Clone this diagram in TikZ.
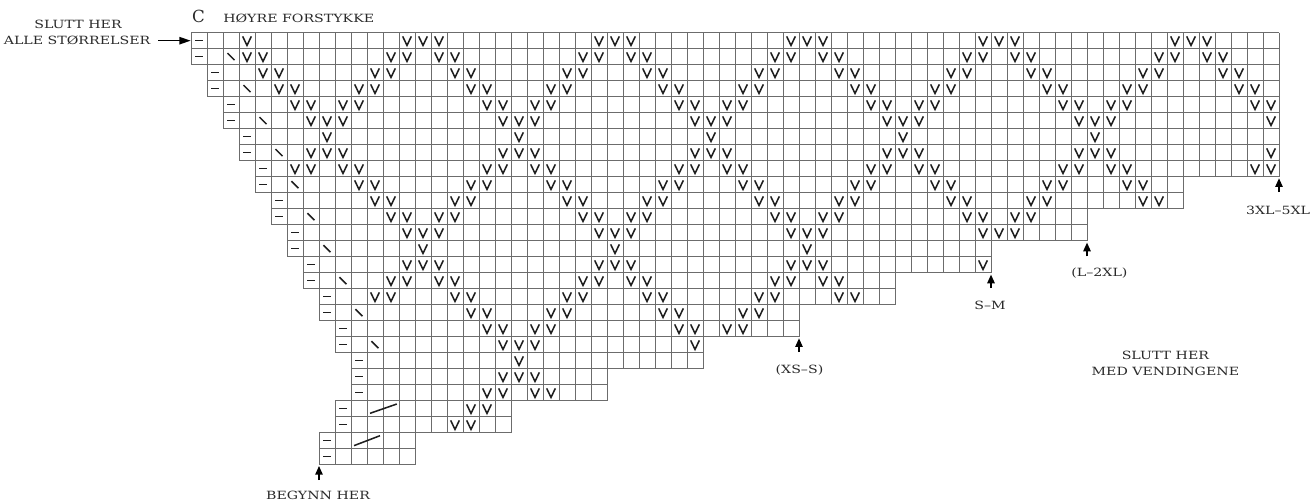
\documentclass[tikz,border=0pt]{standalone}
\usepackage{fontspec}
\newfontfamily\labfont[FakeStretch=1.25]{DejaVu Serif}
\newfontfamily\labfontC{DejaVu Serif}
\usetikzlibrary{arrows.meta}
\definecolor{gridc}{HTML}{6C6C6C}
\definecolor{symc}{HTML}{1E1E1E}
\definecolor{textc}{HTML}{2A2A2A}
\tikzset{
  gridline/.style={draw=gridc, line width=0.75pt},
  sym/.style={draw=symc, line width=1.15pt},
  lab/.style={font=\labfont\fontsize{8.5pt}{12pt}\selectfont, text=textc, inner sep=0pt},
  bigc/.style={font=\labfontC\fontsize{12.5pt}{14pt}\selectfont, text=textc, inner sep=0pt},
  sizearrow/.style={draw=black, line width=1.1pt, -{Triangle[length=6.5pt,width=5.5pt]}},
  startarrow/.style={draw=black, line width=1.2pt, -{Triangle[length=8.5pt,width=5.5pt]}},
}
\newcommand\symV[2]{\draw[sym] (#1+0.23,#2+0.23) -- (#1+0.5,#2+0.8) -- (#1+0.77,#2+0.23);}
\begin{document}
\begin{tikzpicture}[x=12pt,y=-12pt]
\useasboundingbox (-11.9375,-2.0417) rectangle (70.0625,29.3958);
\foreach \rr/\st/\ee/\lo/\bk in {0/0/68/2/0,1/0/68/2/1,2/1/68/2/0,3/1/68/3/1,4/2/68/3/0,5/2/68/4/1,6/3/68/4/0,7/3/68/5/1,8/4/68/5/0,9/4/62/6/1,10/5/62/6/0,11/5/56/7/1,12/6/56/7/0,13/6/50/8/1,14/7/50/8/0,15/7/44/9/1,16/8/44/9/0,17/8/38/11/1,18/9/38/10/0,19/9/32/11/1,20/10/32/11/0,21/10/26/11/0,22/10/26/11/0,23/9/20/14/0,24/9/20/14/0,25/8/14/14/0,26/8/14/14/0} {
  \draw[gridline] (\st,\rr) -- (\ee,\rr) (\st,\rr+1) -- (\ee,\rr+1);
  \foreach \cc in {\st,...,\ee} {\draw[gridline] (\cc,\rr) -- (\cc,\rr+1);}
  \draw[sym] (\st+0.27,\rr+0.5) -- (\st+0.73,\rr+0.5);
  \ifnum\bk=1 \draw[sym] (\st+2.28,\rr+0.28) -- (\st+2.72,\rr+0.72);\fi
  \pgfmathtruncatemacro\bs{mod(\rr,7)}
  \pgfmathtruncatemacro\sh{mod(6*floor(\rr/7),12)}
  \ifcase\bs \def\blist{1,2,3}\or\def\blist{0,1,3,4}\or\def\blist{11,0,4,5}\or\def\blist{10,11,5,6}\or\def\blist{9,10,6,7}\or\def\blist{7,8,9}\or\def\blist{8}\fi
  \foreach \bb in \blist {
    \foreach \kk in {0,...,5} {
      \pgfmathtruncatemacro\cc{mod(\bb+\sh,12)+12*\kk}
      \ifnum\cc>\lo \ifnum\cc<\ee \symV{\cc}{\rr}\fi\fi
    }
  }
}
% long slanted strokes
\draw[sym] (11.19,23.79) -- (12.86,23.21);
\draw[sym] (10.19,25.81) -- (11.81,25.19);
% titles
\node[bigc, anchor=base] (ttlc) at (0.47,-0.623) {C};
\node[lab, anchor=base west] (ttl) at (2.0,-0.623) {HØYRE FORSTYKKE};
% start/end labels
\node[lab, anchor=base] (endall1) at (-7.06,-0.27) {SLUTT HER};
\node[lab, anchor=base] (endall2) at (-7.12,0.77) {ALLE STØRRELSER};
\coordinate (endtail) at (-2.06,0.5);
\coordinate (endtip) at (-0.02,0.5);
\draw[startarrow] (endtail) -- (endtip);
\node[lab, anchor=base] (beg) at (7.94,29.2) {BEGYNN HER};
\coordinate (begtail) at (8,27.96);
\coordinate (begtip) at (8,27.08);
\draw[sizearrow] (begtail) -- (begtip);
% size labels
\node[lab, anchor=base] (s3xl) at (67.94,11.35) {3XL–5XL};
\coordinate (s3xltail) at (68,9.96);
\coordinate (s3xltip) at (68,9.1);
\draw[sizearrow] (s3xltail) -- (s3xltip);
\node[lab, anchor=base] (sl2xl) at (56.78,15.25) {(L–2XL)};
\coordinate (sl2xltail) at (56,13.98);
\coordinate (sl2xltip) at (56,13.12);
\draw[sizearrow] (sl2xltail) -- (sl2xltip);
\node[lab, anchor=base] (ssm) at (49.94,17.29) {S–M};
\coordinate (ssmtail) at (50,15.96);
\coordinate (ssmtip) at (50,15.12);
\draw[sizearrow] (ssmtail) -- (ssmtip);
\node[lab, anchor=base] (sxs) at (38.03,21.33) {(XS–S)};
\coordinate (sxstail) at (38,19.96);
\coordinate (sxstip) at (38,19.1);
\draw[sizearrow] (sxstail) -- (sxstip);
% end of turns
\node[lab, anchor=base] (endturn1) at (60.9,20.44) {SLUTT HER};
\node[lab, anchor=base] (endturn2) at (60.9,21.42) {MED VENDINGENE};
\end{tikzpicture}
\end{document}
